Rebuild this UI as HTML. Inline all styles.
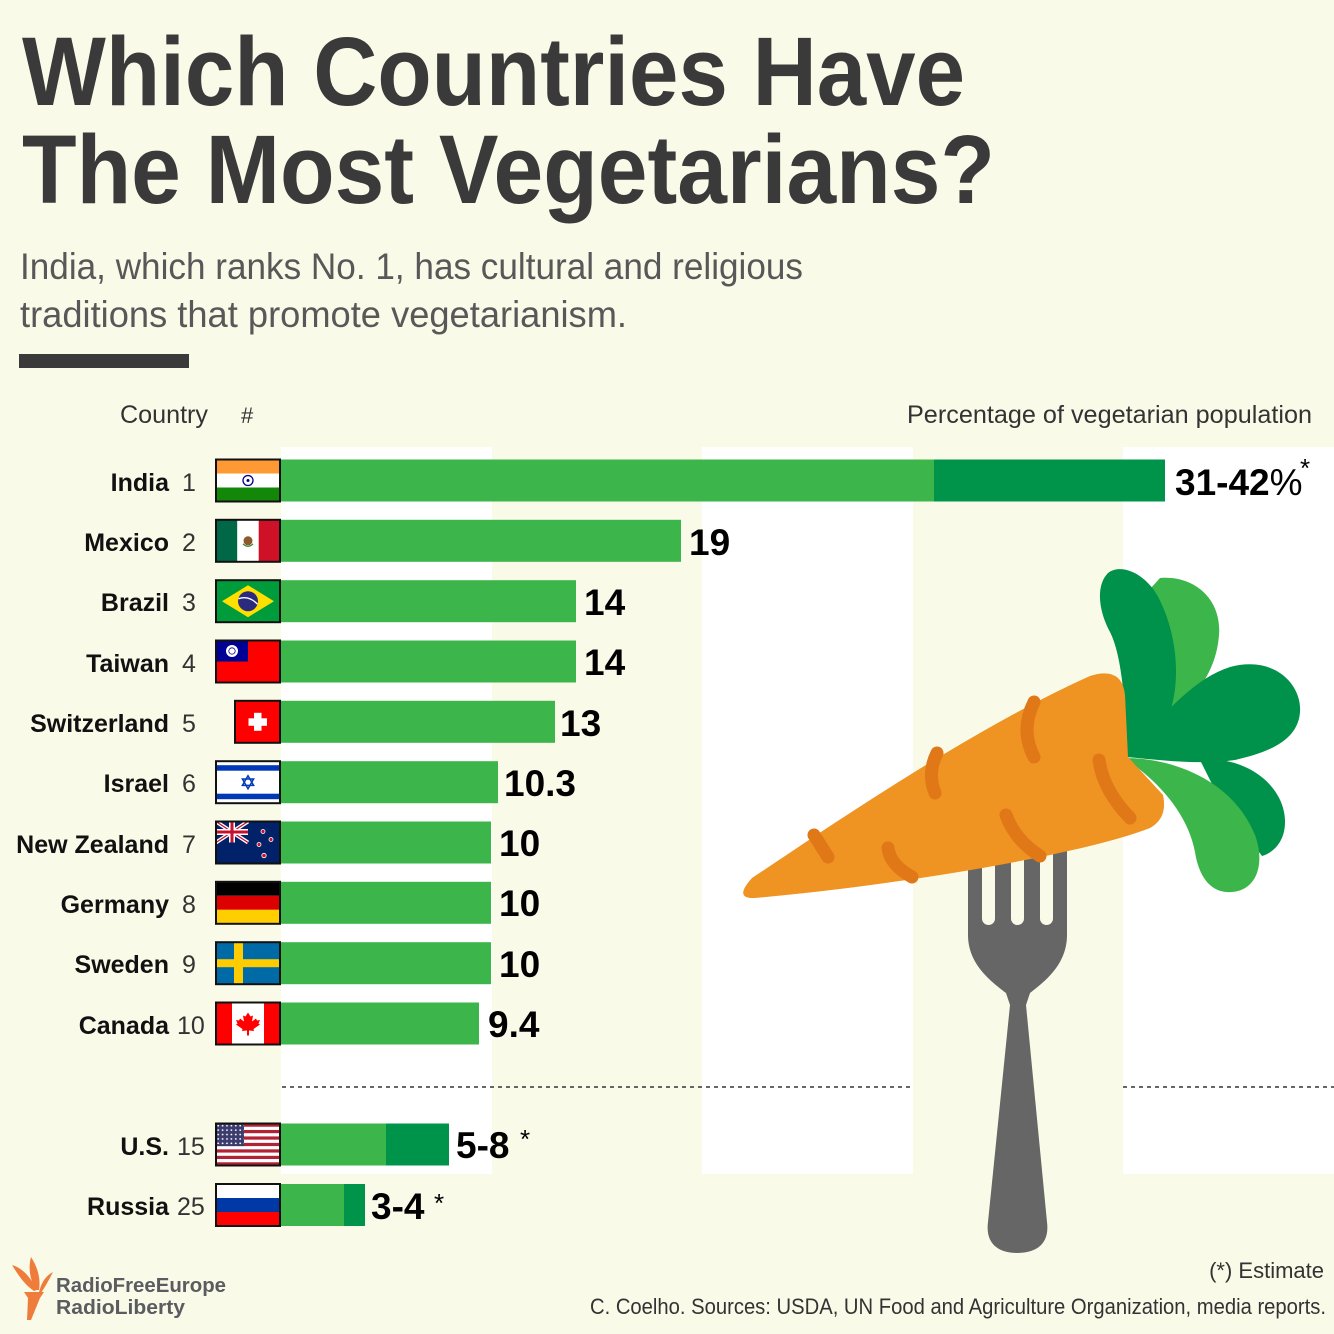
<!DOCTYPE html>
<html>
<head>
<meta charset="utf-8">
<style>
  html,body{margin:0;padding:0;background:#fafae9;}
  svg{display:block;}
  text{font-family:"Liberation Sans",sans-serif;}
</style>
</head>
<body>
<svg width="1334" height="1334" viewBox="0 0 1334 1334" xmlns="http://www.w3.org/2000/svg">
  <defs>
    <pattern id="stars" width="4.4" height="4.4" patternUnits="userSpaceOnUse">
      <circle cx="2.2" cy="2.2" r="0.9" fill="#fff"/>
    </pattern>
  </defs>
  <rect x="0" y="0" width="1334" height="1334" fill="#fafae9"/>

  <!-- Title -->
  <text x="22" y="105" font-size="97" font-weight="bold" fill="#3a3a3a" textLength="943" lengthAdjust="spacingAndGlyphs">Which Countries Have</text>
  <text x="22" y="203" font-size="97" font-weight="bold" fill="#3a3a3a" textLength="973" lengthAdjust="spacingAndGlyphs">The Most Vegetarians?</text>

  <!-- Subtitle -->
  <text x="20" y="279" font-size="37" fill="#585858" textLength="783" lengthAdjust="spacingAndGlyphs">India, which ranks No. 1, has cultural and religious</text>
  <text x="20" y="327" font-size="37" fill="#585858" textLength="607" lengthAdjust="spacingAndGlyphs">traditions that promote vegetarianism.</text>
  <rect x="19" y="354" width="170" height="14" fill="#3a3a3a"/>

  <!-- Headers -->
  <text x="120" y="423" font-size="25" fill="#333" textLength="88" lengthAdjust="spacingAndGlyphs">Country</text>
  <text x="241" y="423" font-size="22" fill="#333">#</text>
  <text x="907" y="423" font-size="25" fill="#333" textLength="405" lengthAdjust="spacingAndGlyphs">Percentage of vegetarian population</text>

  <!-- White bands -->
  <rect x="281" y="447" width="211" height="727" fill="#ffffff"/>
  <rect x="702" y="447" width="211" height="727" fill="#ffffff"/>
  <rect x="1123" y="447" width="211" height="727" fill="#ffffff"/>

  <!-- Dashed separator -->
  <line x1="282" y1="1087" x2="912" y2="1087" stroke="#333" stroke-width="1.6" stroke-dasharray="4,4"/>
  <line x1="1123" y1="1087" x2="1334" y2="1087" stroke="#333" stroke-width="1.6" stroke-dasharray="4,4"/>

  <!-- Bars -->
  <g fill="#3cb54a">
    <rect x="281" y="459.5" width="653" height="42"/>
    <rect x="281" y="519.8" width="400" height="42"/>
    <rect x="281" y="580.2" width="295" height="42"/>
    <rect x="281" y="640.5" width="295" height="42"/>
    <rect x="281" y="700.8" width="274" height="42"/>
    <rect x="281" y="761.2" width="217" height="42"/>
    <rect x="281" y="821.5" width="210" height="42"/>
    <rect x="281" y="881.8" width="210" height="42"/>
    <rect x="281" y="942.2" width="210" height="42"/>
    <rect x="281" y="1002.5" width="198" height="42"/>
    <rect x="281" y="1123.5" width="105" height="42"/>
    <rect x="281" y="1184" width="63" height="42"/>
  </g>
  <g fill="#00944a">
    <rect x="934" y="459.5" width="231" height="42"/>
    <rect x="386" y="1123.5" width="63" height="42"/>
    <rect x="344" y="1184" width="21" height="42"/>
  </g>

  <!-- Country names -->
  <g font-size="25" font-weight="bold" fill="#111" text-anchor="end">
    <text x="169" y="491">India</text>
    <text x="169" y="551">Mexico</text>
    <text x="169" y="611">Brazil</text>
    <text x="169" y="672">Taiwan</text>
    <text x="169" y="732">Switzerland</text>
    <text x="169" y="792">Israel</text>
    <text x="169" y="853">New Zealand</text>
    <text x="169" y="913">Germany</text>
    <text x="169" y="973">Sweden</text>
    <text x="169" y="1034">Canada</text>
    <text x="169" y="1155">U.S.</text>
    <text x="169" y="1215">Russia</text>
  </g>
  <!-- Ranks -->
  <g font-size="25" fill="#333">
    <text x="182" y="491">1</text>
    <text x="182" y="551">2</text>
    <text x="182" y="611">3</text>
    <text x="182" y="672">4</text>
    <text x="182" y="732">5</text>
    <text x="182" y="792">6</text>
    <text x="182" y="853">7</text>
    <text x="182" y="913">8</text>
    <text x="182" y="973">9</text>
    <text x="177" y="1034">10</text>
    <text x="177" y="1155">15</text>
    <text x="177" y="1215">25</text>
  </g>

  <!-- Values -->
  <g font-size="37" font-weight="bold" fill="#000">
    <text x="1175" y="495">31-42<tspan font-weight="normal">%</tspan></text>
    <text x="689" y="555">19</text>
    <text x="584" y="615">14</text>
    <text x="584" y="675">14</text>
    <text x="560" y="736">13</text>
    <text x="504" y="796">10.3</text>
    <text x="499" y="856">10</text>
    <text x="499" y="916">10</text>
    <text x="499" y="977">10</text>
    <text x="488" y="1037">9.4</text>
    <text x="456" y="1158">5-8</text>
    <text x="371" y="1219">3-4</text>
  </g>
  <g font-size="26" fill="#000">
    <text x="1300" y="477">*</text>
    <text x="520" y="1148">*</text>
    <text x="434" y="1212">*</text>
  </g>

  <!-- Flags -->
  <!-- India -->
  <g transform="translate(216,459.5)">
    <rect width="64" height="14" fill="#ff9933"/>
    <rect y="14" width="64" height="14" fill="#fff"/>
    <rect y="28" width="64" height="14" fill="#138808"/>
    <circle cx="32" cy="21" r="5" fill="none" stroke="#000080" stroke-width="1.3"/>
    <circle cx="32" cy="21" r="1.5" fill="#000080"/>
    <rect width="64" height="42" fill="none" stroke="#111" stroke-width="2"/>
  </g>
  <!-- Mexico -->
  <g transform="translate(216,519.8)">
    <rect width="21.3" height="42" fill="#006847"/>
    <rect x="21.3" width="21.4" height="42" fill="#fff"/>
    <rect x="42.7" width="21.3" height="42" fill="#ce1126"/>
    <circle cx="32" cy="21" r="4.5" fill="#8b5a2b"/>
    <path d="M27 24 Q32 29 37 24" fill="none" stroke="#2e7d32" stroke-width="1.2"/>
    <rect width="64" height="42" fill="none" stroke="#111" stroke-width="2"/>
  </g>
  <!-- Brazil -->
  <g transform="translate(216,580.2)">
    <rect width="64" height="42" fill="#009c3b"/>
    <polygon points="6,21 32,5 58,21 32,37" fill="#fedf00"/>
    <circle cx="32" cy="21" r="10" fill="#2a2a7e"/>
    <path d="M22.5 18.5 Q33 15 41.5 24" fill="none" stroke="#fff" stroke-width="1.4"/>
    <rect width="64" height="42" fill="none" stroke="#111" stroke-width="2"/>
  </g>
  <!-- Taiwan -->
  <g transform="translate(216,640.5)">
    <rect width="64" height="42" fill="#fe0000"/>
    <rect width="32" height="21" fill="#000095"/>
    <circle cx="16" cy="10.5" r="6" fill="#fff"/>
    <circle cx="16" cy="10.5" r="3.6" fill="#000095"/>
    <circle cx="16" cy="10.5" r="2.8" fill="#fff"/>
    <rect width="64" height="42" fill="none" stroke="#111" stroke-width="2"/>
  </g>
  <!-- Switzerland -->
  <g transform="translate(235,700.8)">
    <rect width="45" height="42" fill="#ff0000"/>
    <rect x="19" y="12" width="7.5" height="18" fill="#fff"/>
    <rect x="13.5" y="17.5" width="18.5" height="7.5" fill="#fff"/>
    <rect width="45" height="42" fill="none" stroke="#111" stroke-width="2"/>
  </g>
  <!-- Israel -->
  <g transform="translate(216,761.2)">
    <rect width="64" height="42" fill="#fff"/>
    <rect y="4" width="64" height="5.5" fill="#0038b8"/>
    <rect y="32.5" width="64" height="5.5" fill="#0038b8"/>
    <polygon points="32,14.5 37.6,24.2 26.4,24.2" fill="none" stroke="#0038b8" stroke-width="1.5"/>
    <polygon points="32,27.5 37.6,17.8 26.4,17.8" fill="none" stroke="#0038b8" stroke-width="1.5"/>
    <rect width="64" height="42" fill="none" stroke="#111" stroke-width="2"/>
  </g>
  <!-- New Zealand -->
  <g transform="translate(216,821.5)">
    <rect width="64" height="42" fill="#012169"/>
    <line x1="0" y1="0" x2="32" y2="21" stroke="#fff" stroke-width="4"/>
    <line x1="32" y1="0" x2="0" y2="21" stroke="#fff" stroke-width="4"/>
    <line x1="0" y1="0" x2="32" y2="21" stroke="#c8102e" stroke-width="1.3"/>
    <line x1="32" y1="0" x2="0" y2="21" stroke="#c8102e" stroke-width="1.3"/>
    <rect x="13" y="0" width="6" height="21" fill="#fff"/>
    <rect x="0" y="7.5" width="32" height="6" fill="#fff"/>
    <rect x="14.5" y="0" width="3" height="21" fill="#c8102e"/>
    <rect x="0" y="9" width="32" height="3" fill="#c8102e"/>
    <g fill="#c8102e" stroke="#fff" stroke-width="0.8">
      <circle cx="47" cy="10" r="2"/>
      <circle cx="55" cy="18" r="2"/>
      <circle cx="43" cy="23" r="2"/>
      <circle cx="48" cy="34" r="2.2"/>
    </g>
    <rect width="64" height="42" fill="none" stroke="#111" stroke-width="2"/>
  </g>
  <!-- Germany -->
  <g transform="translate(216,881.8)">
    <rect width="64" height="14" fill="#000"/>
    <rect y="14" width="64" height="14" fill="#dd0000"/>
    <rect y="28" width="64" height="14" fill="#ffce00"/>
    <rect width="64" height="42" fill="none" stroke="#111" stroke-width="2"/>
  </g>
  <!-- Sweden -->
  <g transform="translate(216,942.2)">
    <rect width="64" height="42" fill="#006aa7"/>
    <rect x="18" width="9" height="42" fill="#fecc00"/>
    <rect y="17" width="64" height="8" fill="#fecc00"/>
    <rect width="64" height="42" fill="none" stroke="#111" stroke-width="2"/>
  </g>
  <!-- Canada -->
  <g transform="translate(216,1002.5)">
    <rect width="64" height="42" fill="#fff"/>
    <rect width="16" height="42" fill="#ff0000"/>
    <rect x="48" width="16" height="42" fill="#ff0000"/>
    <polygon points="32,10 34.5,14 37,13 36,19 40,16 41,18 44,17.5 42.5,21 44,22 37.5,26.5 38,28.5 33,28 33,33 31,33 31,28 26,28.5 26.5,26.5 20,22 21.5,21 20,17.5 23,18 24,16 28,19 27,13 29.5,14" fill="#ff0000"/>
    <rect width="64" height="42" fill="none" stroke="#111" stroke-width="2"/>
  </g>
  <!-- US -->
  <g transform="translate(216,1123.5)">
    <rect width="64" height="42" fill="#b22234"/>
    <g fill="#fff">
      <rect y="3.23" width="64" height="3.23"/>
      <rect y="9.69" width="64" height="3.23"/>
      <rect y="16.15" width="64" height="3.23"/>
      <rect y="22.61" width="64" height="3.23"/>
      <rect y="29.07" width="64" height="3.23"/>
      <rect y="35.53" width="64" height="3.23"/>
    </g>
    <rect width="28" height="22.6" fill="#3c3b6e"/>
    <rect width="28" height="22.6" fill="url(#stars)"/>
    <rect width="64" height="42" fill="none" stroke="#111" stroke-width="2"/>
  </g>
  <!-- Russia -->
  <g transform="translate(216,1184)">
    <rect width="64" height="14" fill="#fff"/>
    <rect y="14" width="64" height="14" fill="#0039a6"/>
    <rect y="28" width="64" height="14" fill="#ff0000"/>
    <rect width="64" height="42" fill="none" stroke="#111" stroke-width="2"/>
  </g>

  <!-- Fork -->
  <path d="M968 850 L968 935 C968 965 992 982 1006 993 L1010 1005 L988 1222 C985 1245 1000 1253 1017 1253 C1035 1253 1050 1245 1047 1222 L1026 1005 L1030 993 C1044 982 1067 965 1067 935 L1067 850 Z" fill="#666666"/>
  <g fill="#fafae9">
    <path d="M982 850 L995 850 L995 918.5 A6.5 6.5 0 0 1 982 918.5 Z"/>
    <path d="M1011 850 L1024 850 L1024 918.5 A6.5 6.5 0 0 1 1011 918.5 Z"/>
    <path d="M1040 850 L1053 850 L1053 918.5 A6.5 6.5 0 0 1 1040 918.5 Z"/>
  </g>

  <!-- Leaves -->
  <path d="M1126 755 C1170 720 1215 690 1219 635 C1222 600 1195 575 1160 578 L1140 600 Z" fill="#3cb54a"/>
  <path d="M1126 757 C1126 720 1124 660 1110 632 C1098 610 1096 585 1108 573 C1122 562 1150 575 1162 605 C1180 645 1182 700 1160 733 Z" fill="#00914a"/>
  <path d="M1126 755 C1160 720 1190 680 1230 667 C1275 655 1302 685 1300 712 C1298 740 1270 752 1235 760 C1200 765 1160 760 1126 757 Z" fill="#00914a"/>
  <path d="M1200 760 C1245 755 1285 785 1285 822 C1285 840 1275 852 1262 856 L1220 800 Z" fill="#00914a"/>
  <path d="M1124 758 C1180 758 1235 785 1255 835 C1265 862 1258 890 1232 892 C1208 894 1198 872 1195 852 C1188 815 1160 782 1124 758 Z" fill="#3cb54a"/>

  <!-- Carrot body -->
  <path d="M752 878 C830 826 970 730 1090 676 Q1122 666 1125 695 L1128 757 L1163 795 Q1168 818 1150 828 C1080 855 900 885 755 898 Q733 899 752 878 Z" fill="#ef9322"/>
  <g fill="none" stroke="#e07818" stroke-width="13" stroke-linecap="round">
    <path d="M1034 702 Q1020 730 1034 757"/>
    <path d="M937 753 Q927 773 935 793"/>
    <path d="M1099 760 Q1103 790 1130 818"/>
    <path d="M1006 815 Q1015 840 1040 856"/>
    <path d="M814 835 L828 857"/>
    <path d="M888 848 Q890 865 912 877"/>
  </g>

  <!-- Footnotes -->
  <text x="1324" y="1278" font-size="22" fill="#333" text-anchor="end">(*) Estimate</text>
  <text x="590" y="1314" font-size="22" fill="#333" textLength="736" lengthAdjust="spacingAndGlyphs">C. Coelho. Sources: USDA, UN Food and Agriculture Organization, media reports.</text>

  <!-- Logo -->
  <g fill="#ee7d3b">
    <polygon points="24,1292 44,1292 40,1298 31,1320 27,1320 28,1298"/>
    <path d="M34 1291 C25 1285 18 1275 12 1265 C22 1268 30 1276 37 1290 Z"/>
    <path d="M36 1290 C30 1280 28 1268 31 1257 C37 1266 41 1278 39 1290 Z"/>
    <path d="M39 1292 C42 1281 46 1276 53 1272 C49 1280 45 1287 41 1293 Z"/>
  </g>
  <text x="56" y="1292" font-size="20" font-weight="bold" fill="#5a5c60" textLength="170" lengthAdjust="spacingAndGlyphs">RadioFreeEurope</text>
  <text x="56" y="1314" font-size="20" font-weight="bold" fill="#5a5c60" textLength="129" lengthAdjust="spacingAndGlyphs">RadioLiberty</text>
</svg>
</body>
</html>
